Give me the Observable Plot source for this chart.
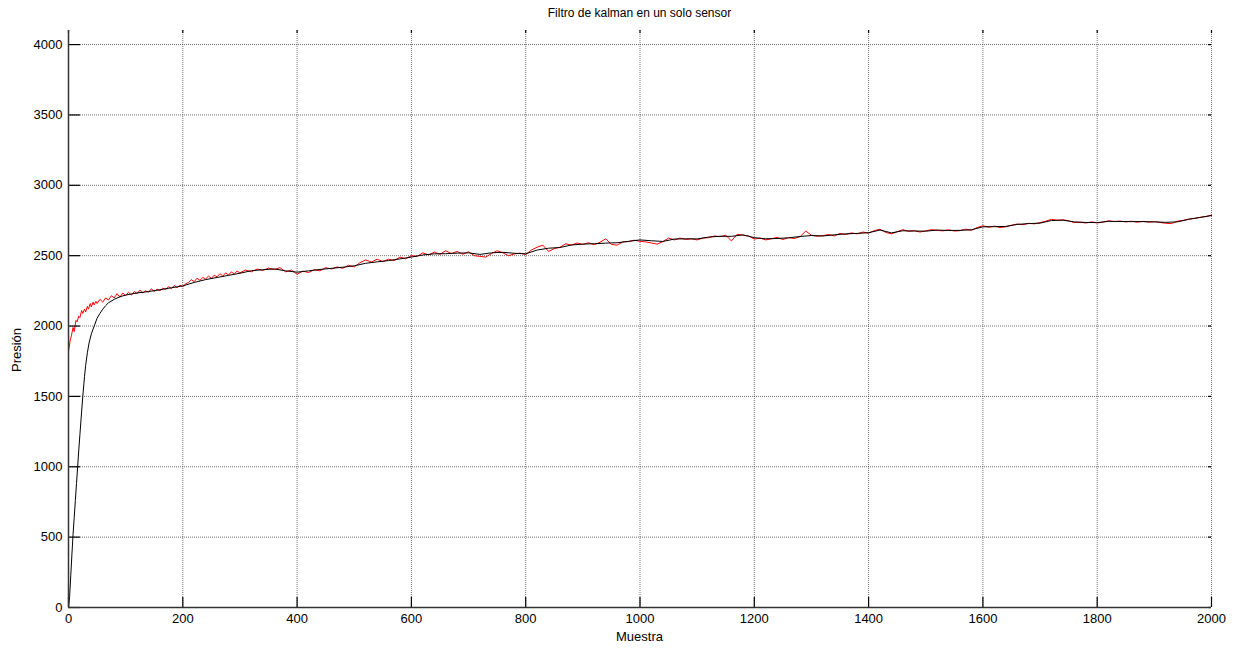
<!DOCTYPE html>
<html>
<head>
<meta charset="utf-8">
<script src="https://cdn.jsdelivr.net/npm/d3@7"></script>
<script src="https://cdn.jsdelivr.net/npm/@observablehq/plot@0.6"></script>
<style>
  body { margin: 0; background: #fff; font-family: "Liberation Sans", Arial, sans-serif; }
  #wrap { position: relative; width: 1234px; height: 648px; }
  #title { position: absolute; top: 6px; left: 68px; width: 1143px; text-align: center; font-size: 12px; color: #000; }
  #ylab { position: absolute; left: 16px; top: 350px; transform: translate(-50%, -50%) rotate(-90deg); font-size: 13px; color: #000; white-space: nowrap; }
  #xlab { position: absolute; top: 629px; left: 68px; width: 1143px; text-align: center; font-size: 13px; color: #000; }
</style>
</head>
<body>
<div id="wrap">
  <div id="chart"></div>
  <div id="title">Filtro de kalman en un solo sensor</div>
  <div id="ylab">Presión</div>
  <div id="xlab">Muestra</div>
</div>
<script>
const titleText = "Filtro de kalman en un solo sensor";
const xTicks = [0, 200, 400, 600, 800, 1000, 1200, 1400, 1600, 1800, 2000];
const yTicks = [0, 500, 1000, 1500, 2000, 2500, 3000, 3500, 4000];

// Filtered (Kalman) estimate — black
const kalmanX = [0,2,4,6,8,10,12,14,16,18,20,22,25,28,30,33,36,40,45,50,55,60,65,70,80,90,100,120,140,160,180,200,220,240,260,280,300,320,340,360,380,400,420,440,460,480,500,520,540,560,580,600,620,640,660,680,700,720,740,760,780,800,820,840,860,880,900,920,940,960,980,1000,1020,1040,1060,1080,1100,1120,1140,1160,1180,1200,1220,1240,1260,1280,1300,1320,1340,1360,1380,1400,1420,1440,1460,1480,1500,1520,1540,1560,1580,1600,1620,1640,1660,1680,1700,1720,1740,1760,1780,1800,1820,1840,1860,1880,1900,1920,1940,1960,1980,2000];
const kalmanY = [0,80,230,380,520,640,760,880,1000,1120,1230,1340,1500,1640,1720,1810,1880,1945,2000,2055,2090,2120,2145,2165,2190,2208,2220,2235,2245,2258,2272,2285,2310,2330,2345,2360,2375,2393,2400,2406,2392,2383,2392,2402,2410,2418,2428,2446,2456,2465,2477,2490,2505,2513,2514,2518,2520,2509,2520,2524,2517,2513,2540,2553,2558,2576,2582,2585,2589,2592,2602,2612,2606,2601,2618,2620,2619,2632,2638,2637,2648,2628,2620,2622,2627,2636,2643,2640,2648,2655,2658,2663,2682,2662,2677,2675,2674,2682,2679,2680,2684,2705,2706,2708,2722,2728,2731,2750,2752,2740,2736,2735,2744,2743,2742,2742,2740,2737,2740,2758,2772,2785];

// Raw sensor readings — red
const sensorX = [0,3,5,8,10,13,15,18,20,23,25,28,30,33,35,38,40,43,45,48,50,55,60,65,70,75,80,85,90,95,100,105,110,115,120,125,130,135,140,145,150,155,160,165,170,175,180,185,190,195,200,205,210,215,220,225,230,235,240,245,250,255,260,265,270,275,280,285,290,295,300,310,320,330,340,350,360,370,380,390,400,410,420,430,440,450,460,470,480,490,500,510,520,530,540,550,560,570,580,590,600,610,620,630,640,650,660,670,680,690,700,710,720,730,740,750,760,770,780,790,800,810,820,830,840,850,860,870,880,890,900,910,920,930,940,950,960,970,980,990,1000,1010,1020,1030,1040,1050,1060,1070,1080,1090,1100,1110,1120,1130,1140,1150,1160,1170,1180,1190,1200,1210,1220,1230,1240,1250,1260,1270,1280,1290,1300,1310,1320,1330,1340,1350,1360,1370,1380,1390,1400,1410,1420,1430,1440,1450,1460,1470,1480,1490,1500,1510,1520,1530,1540,1550,1560,1570,1580,1590,1600,1610,1620,1630,1640,1650,1660,1670,1680,1690,1700,1710,1720,1730,1740,1750,1760,1770,1780,1790,1800,1810,1820,1830,1840,1850,1860,1870,1880,1890,1900,1910,1920,1930,1940,1950,1960,1970,1980,1990,2000];
const sensorY = [1820,1900,1930,1990,1960,2040,2030,2070,2060,2110,2090,2120,2100,2140,2120,2160,2135,2170,2150,2175,2160,2190,2170,2200,2185,2215,2200,2230,2205,2235,2215,2240,2220,2245,2230,2255,2235,2250,2240,2265,2245,2262,2250,2270,2258,2280,2265,2288,2272,2290,2280,2300,2310,2330,2315,2340,2325,2345,2335,2355,2340,2360,2350,2372,2355,2378,2362,2385,2370,2390,2378,2398,2385,2405,2395,2412,2400,2415,2385,2398,2368,2390,2380,2400,2392,2415,2405,2420,2410,2432,2420,2450,2470,2455,2475,2458,2475,2465,2490,2478,2500,2495,2520,2505,2525,2510,2535,2515,2530,2510,2528,2500,2495,2490,2515,2535,2520,2500,2512,2518,2508,2540,2560,2575,2530,2550,2560,2585,2575,2590,2580,2592,2578,2595,2620,2580,2575,2598,2600,2610,2602,2598,2590,2582,2600,2625,2612,2625,2615,2620,2612,2625,2628,2640,2635,2645,2605,2652,2645,2640,2618,2625,2612,2620,2630,2615,2628,2622,2635,2675,2645,2638,2642,2650,2640,2658,2650,2662,2655,2668,2660,2678,2688,2665,2655,2670,2685,2672,2678,2668,2676,2685,2680,2676,2684,2675,2678,2688,2680,2700,2712,2702,2710,2700,2705,2716,2725,2720,2730,2726,2735,2745,2758,2752,2755,2748,2735,2738,2732,2740,2733,2738,2748,2742,2746,2740,2745,2738,2744,2738,2742,2736,2730,2728,2745,2750,2760,2765,2772,2778,2788];

const sensor = sensorX.map((x, i) => ({x, y: sensorY[i]}));
const kalman = kalmanX.map((x, i) => ({x, y: kalmanY[i]}));

document.getElementById("title").textContent = titleText;

const W = 1234, H = 648, mL = 68, mR = 23, mT = 30, mB = 41;
const innerW = W - mL - mR, innerH = H - mT - mB;

const chart = Plot.plot({
  width: W,
  height: H,
  marginLeft: mL,
  marginRight: mR,
  marginTop: mT,
  marginBottom: mB,
  style: {background: "#fff", fontFamily: "'Liberation Sans', Arial, sans-serif", fontSize: "13px", color: "#000", overflow: "visible"},
  x: {domain: [0, 2000]},
  y: {domain: [0, 4100]},
  marks: [
    Plot.gridX(xTicks, {stroke: "#333", strokeOpacity: 0.7, strokeDasharray: "1,1"}),
    Plot.gridY(yTicks, {stroke: "#333", strokeOpacity: 0.7, strokeDasharray: "1,1"}),
    Plot.line(sensor, {x: "x", y: "y", stroke: "#ff0000", strokeWidth: 1}),
    Plot.line(kalman, {x: "x", y: "y", stroke: "#000", strokeWidth: 1}),
    // inward ticks
    Plot.tickX(xTicks, {x: d => d, stroke: "#000", strokeWidth: 1.2, insetTop: innerH - 10}),
    Plot.tickY(yTicks, {y: d => d, stroke: "#000", strokeWidth: 1.2, insetRight: innerW - 12}),
    Plot.tickX(xTicks, {x: d => d, stroke: "#000", strokeWidth: 1.2, insetBottom: innerH - 3}),
    Plot.tickY(yTicks, {y: d => d, stroke: "#000", strokeWidth: 1.2, insetLeft: innerW - 3}),
    Plot.ruleX([0], {stroke: "#333", strokeWidth: 1.5}),
    Plot.ruleY([0], {stroke: "#333", strokeWidth: 1.5}),
    Plot.axisX(xTicks, {anchor: "bottom", tickSize: 0, tickPadding: 6, label: null, tickFormat: d => String(d)}),
    Plot.axisY(yTicks, {anchor: "left", tickSize: 0, tickPadding: 6, label: null, tickFormat: d => String(d)})
  ]
});
document.getElementById("chart").appendChild(chart);
</script>
</body>
</html>
